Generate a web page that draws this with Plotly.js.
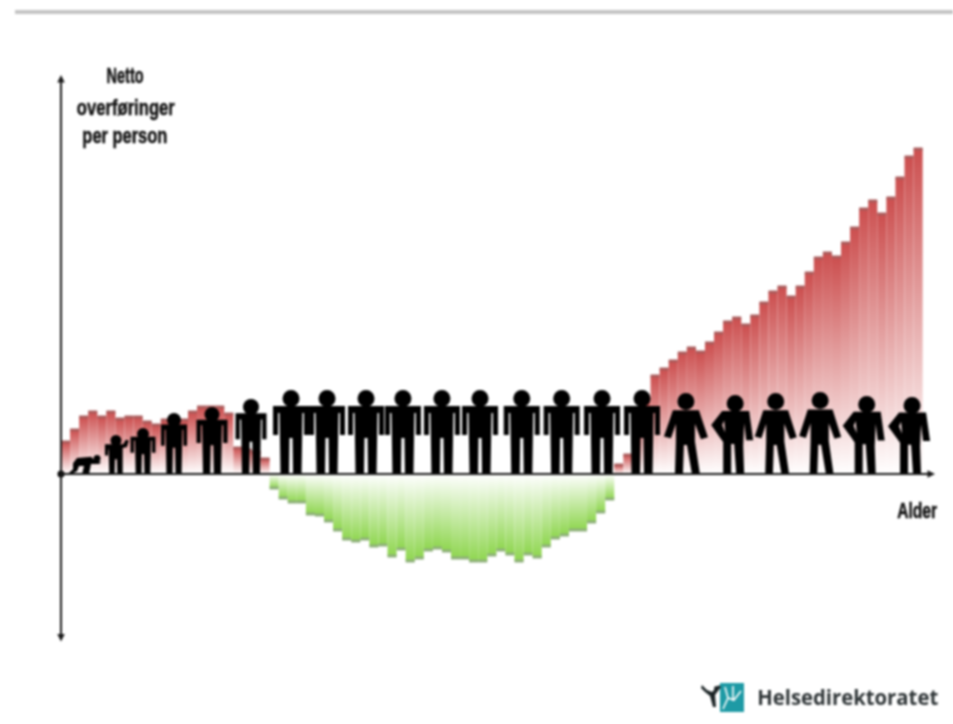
<!DOCTYPE html>
<html>
<head>
<meta charset="utf-8">
<script src="https://cdn.plot.ly/plotly-3.0.1.min.js"></script>
<style>html,body{margin:0;padding:0;background:#fff;overflow:hidden}#chart{width:953px;height:724px;filter:blur(0.9px)}</style>
</head>
<body>
<div id="chart"></div>
<script>
// Net transfer per person by age (arbitrary units)
const ages = [];
for (let a = 0; a < 95; a++) ages.push(a);
const transfers = [
  32,44,57,62,57,62,55,57,57,52,49,54,54,54,62,67,67,67,60,26,24,22,15,
  -14,-24,-28,-28,-40,-41,-47,-56,-65,-67,-65,-72,-71,-82,-75,-87,-84,-76,-74,-77,-84,-84,-87,-87,-81,-76,-80,-87,-80,-83,-72,-64,-61,-56,-56,-48,-38,-25,
  9,19,40,75,
  98,105,113,121,126,122,131,141,152,156,149,158,171,182,187,177,187,201,216,221,217,231,246,265,273,260,276,296,317,325
];

// Pictograms walking along the age axis
const figureAge    = [2.15,5.56,8.54,11.96,16.15,20.45,24.86,28.83,33.13,37.2,41.5,45.7,50.3,54.7,59.15,63.56,68.4,73.5,78.3,83.2,88,93];
const figureHeight = [20,39,46,61,67,75,84,84,84,84,84,84,84,84,84,84,81,79,81,82,78,77];
const figureWidth  = [32,22,25,26,31,31,36,36,36,36,36,36,36,36,36,36,44,42,42,42,42,42];
const figureHead   = [3.5,5.5,6,7,7.5,8,8.5,8.5,8.5,8.5,8.5,8.5,8.5,8.5,8.5,8.5,8.5,8.5,8.5,8.5,8.5,8.5];
const figurePose   = ['crawl','wave','stand','stand','stand','stand','stand','stand','stand','stand','stand','stand','stand','stand','stand','stand','walk','hip','walk','walk','hip','hip'];

const yTitleLines = ['Netto','overføringer','per person'];
const xTitle = 'Alder';
const logoText = 'Helsedirektoratet';

const W = 953, H = 724, X0 = 61, Y0 = 474, BW = 9.07;
const px2x = p => (p - X0) / BW - 0.5;
const py2y = p => Y0 - p;

const poses = {
  stand: {w:36, hx:0, hy:76, paths:[[[-18,68],[18,68],[18,39],[13,39],[13,61],[11.5,61],[10.5,0],[2,0],[1.5,36],[-1.5,36],[-2,0],[-10.5,0],[-11.5,61],[-13,61],[-13,39],[-18,39]]]},
  wave:  {w:36, hx:0, hy:74, paths:[[[-18,64],[12,64],[16,74],[21,72],[18,58],[11,56],[11,0],[2,0],[1.5,32],[-1.5,32],[-2,0],[-11,0],[-12,56],[-13,48],[-13,40],[-18,40]]]},
  walk:  {w:44, hx:0, hy:75, paths:[[[-13,66],[13,66],[22,38],[15,36],[9,52],[9,34],[14,0],[6,0],[1,30],[-2,30],[-3,0],[-11,0],[-10,34],[-10,52],[-15,37],[-22,39]]]},
  hip:   {w:42, hx:3, hy:75, paths:[[[-10,67],[17,67],[21,36],[14,36],[12,54],[11,30],[12,0],[4,0],[2,32],[-1,32],[-1,0],[-9,0],[-9,34],[-13,40],[-21,52]],[[-10,52],[-7,44],[-8,57]]]},
  crawl: {w:32, hx:12, hy:32, paths:[[[-8,48],[6,52],[10,40],[16,36],[14,30],[6,30],[4,0],[-3,0],[-1,24],[-6,24],[-8,8],[-14,0],[-16,4],[-12,14],[-12,32]]]}
};

function figureShapes(i) {
  const pose = poses[figurePose[i]], h = figureHeight[i], w = figureWidth[i];
  const designH = figurePose[i] === 'crawl' ? 60 : 84;
  const sx = w / pose.w, sy = h / designH;
  let d = '';
  pose.paths.forEach(poly => {
    d += poly.map((p, k) => (k ? 'L' : 'M') + (p[0] * sx).toFixed(2) + ',' + (p[1] * sy).toFixed(2)).join(' ') + ' Z ';
  });
  const hr = figureHead[i], hx = pose.hx * sx;
  const hyFinal = figurePose[i] === 'crawl' ? 15.5 : h - hr;
  return [
    {type:'path', xref:'x', yref:'y', xsizemode:'pixel', ysizemode:'pixel', xanchor:figureAge[i], yanchor:0,
     path:d, fillcolor:'#000', fillrule:'evenodd', line:{width:0}},
    {type:'circle', xref:'x', yref:'y', xsizemode:'pixel', ysizemode:'pixel', xanchor:figureAge[i], yanchor:0,
     x0:hx-hr, x1:hx+hr, y0:hyFinal-hr, y1:hyFinal+hr, fillcolor:'#000', line:{width:0}}
  ];
}

// One filled step per age, each with its own vertical fade towards the baseline
const traces = ages.map((a, i) => {
  const v = transfers[i], pos = v > 0;
  return {
    type:'scatter', mode:'lines', x:[a-0.5, a+0.5], y:[v, v],
    fill:'tozeroy',
    fillgradient:{type:'vertical',
      colorscale: pos ? [[0,'#ffffff'],[1,'#cc4f4f']] : [[0,'#8fd650'],[1,'#ffffff']]},
    line:{color: pos ? '#ab5d5d' : '#8eb07a', width:3, shape:'linear'},
    hoverinfo:'skip', showlegend:false
  };
});

let shapes = [
  {type:'rect', xref:'paper', yref:'paper', x0:15/W, x1:1, y0:1-14/H, y1:1-10/H, fillcolor:'#c4c4c4', line:{width:0}},
  {type:'circle', xref:'x', yref:'y', xsizemode:'pixel', ysizemode:'pixel', xanchor:px2x(X0), yanchor:0, x0:-3.5, x1:3.5, y0:-3.5, y1:3.5, fillcolor:'#000', line:{width:0}}
];
figureAge.forEach((_, i) => { shapes = shapes.concat(figureShapes(i)); });

// Logo mark
const logoAnchor = {xref:'x', yref:'y', xsizemode:'pixel', ysizemode:'pixel', xanchor:px2x(720), yanchor:py2y(712)};
shapes.push(Object.assign({type:'rect', x0:0, x1:24, y0:0, y1:29, fillcolor:'#1e9aa5', line:{width:0}}, logoAnchor));
shapes.push(Object.assign({type:'path', path:'M3,3 L8,14 L14,12 L21,21 M8,14 L5,25 M13,11 L13,26', line:{color:'#ffffff', width:1.6}}, logoAnchor));
shapes.push(Object.assign({type:'path', path:'M-18,27 L-13,22 L-8,20 L-1,27 L1,25 L-5,17 L-4,5 L-7,5 L-10,16 L-15,20 L-19,24 Z', fillcolor:'#1c2426', line:{width:0}}, logoAnchor));
shapes.push(Object.assign({type:'circle', x0:-6, x1:-1, y0:21, y1:26, fillcolor:'#1c2426', line:{width:0}}, logoAnchor));

const narrow = {family:'"Liberation Sans",sans-serif', size:22, color:'#111', weight:700};
const ann = (text, px, py, font, xanchor) => ({text, xref:'paper', yref:'paper', x:px/W, y:1-py/H, showarrow:false, xanchor:xanchor||'center', yanchor:'middle', font});
const arrow = (x0, y0, x1, y1) => ({xref:'x', yref:'y', axref:'x', ayref:'y', x:x1, y:y1, ax:x0, ay:y0, text:'', showarrow:true,
  arrowhead:2, arrowside:'end+start', arrowsize:0.75, arrowwidth:2, arrowcolor:'#1a1a1a'});

const annotations = [
  arrow(px2x(X0), py2y(643), px2x(X0), py2y(75)),
  Object.assign(arrow(px2x(X0), 0, px2x(935), 0), {arrowside:'end'}),
  ann(yTitleLines[0], 125, 76, narrow),
  ann(yTitleLines[1], 126, 108, narrow),
  ann(yTitleLines[2], 125.5, 136, narrow),
  ann(xTitle, 917, 510, narrow),
  ann(logoText, 752, 697, {family:'"Open Sans","Noto Sans",sans-serif', size:21, color:'#2f3537', weight:700}, 'left')
];

const layout = {
  width:W, height:H, margin:{l:0,r:0,t:0,b:0}, paper_bgcolor:'#fff', plot_bgcolor:'#fff', showlegend:false,
  xaxis:{range:[px2x(0), px2x(W)], visible:false, fixedrange:true},
  yaxis:{range:[py2y(H), py2y(0)], visible:false, fixedrange:true},
  shapes, annotations
};

// The label face is much narrower and heavier than any installed bold:
// squeeze the real text to its width and thicken its strokes.
const textWidths = {'Netto':37, 'overføringer':98, 'per person':85, 'Alder':40, 'Helsedirektoratet':181};
Plotly.newPlot('chart', traces, layout, {displayModeBar:false, staticPlot:true}).then(() => {
  document.querySelectorAll('#chart .annotation-text').forEach(t => {
    const w = textWidths[t.textContent];
    if (w) {
      t.setAttribute('textLength', w);
      t.setAttribute('lengthAdjust', 'spacingAndGlyphs');
      if (t.textContent !== logoText) { t.style.stroke = '#111'; t.style.strokeWidth = '0.5px'; }
    }
  });
});
</script>
</body>
</html>
